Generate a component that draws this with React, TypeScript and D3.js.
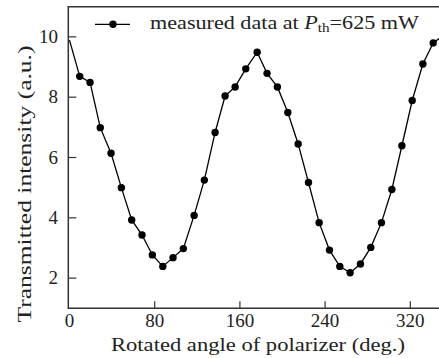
import React from "react";
import * as d3 from "d3";

const angles = [0, 9.6, 19.3, 28.9, 39.0, 48.7, 58.4, 68.1, 77.8, 87.6, 97.2, 106.9, 117.0, 126.6, 136.7, 146.1, 155.5, 165.5, 176.2, 185.5, 195.2, 205.0, 214.7, 224.4, 234.4, 244.1, 253.8, 263.5, 273.2, 282.9, 292.9, 302.7, 312.1, 321.8, 331.8, 341.5, 351.0];
const intensity = [9.89, 8.69, 8.49, 6.99, 6.14, 5.0, 3.93, 3.43, 2.77, 2.39, 2.68, 2.98, 4.08, 5.25, 6.83, 8.04, 8.34, 8.94, 9.49, 8.79, 8.34, 7.49, 6.45, 5.17, 3.84, 2.93, 2.39, 2.18, 2.47, 3.02, 3.84, 4.94, 6.39, 7.89, 9.1, 9.8, 10.05];
const markerVisible = angles.map((a) => a > 0);
const xTicks = [0, 80, 160, 240, 320];
const yTicks = [2, 4, 6, 8, 10];

const W = 439;
const H = 358;
const FONT = "'Liberation Serif', 'DejaVu Serif', serif";

export default function App() {
  const x = d3.scaleLinear().domain([0, 80]).range([69.5, 154.7]);
  const y = d3.scaleLinear().domain([1, 11]).range([308.3, 6.7]);
  const x0 = 68.3;
  const xEnd = 460;
  const line = d3
    .line<number>()
    .x((_, i) => x(angles[i]))
    .y((d) => y(d));

  return (
    <svg
      width={W}
      height={H}
      style={{ position: "absolute", left: 0, top: 0, background: "#fff" }}
      fontFamily={FONT}
    >
      <defs>
        <clipPath id="plot">
          <rect x={x0} y={y(11)} width={xEnd - x0} height={y(1) - y(11)} />
        </clipPath>
      </defs>
      {/* frame */}
      <line x1={x0} x2={xEnd} y1={y(1)} y2={y(1)} stroke="#333" strokeWidth={1.5} />
      <line x1={x0} x2={xEnd} y1={y(11)} y2={y(11)} stroke="#333" strokeWidth={1.5} />
      <line x1={x0} x2={x0} y1={y(1) + 0.75} y2={y(11) - 0.75} stroke="#333" strokeWidth={1.5} />
      {/* x ticks */}
      {xTicks.map((t) => (
        <g key={"x" + t}>
          {t > 0 && (
            <line x1={x(t)} x2={x(t)} y1={y(1)} y2={y(1) - 7} stroke="#333" strokeWidth={1.2} />
          )}
          <text x={x(t)} y={326.6} fontSize={19} textAnchor="middle" fill="#222">
            {t}
          </text>
        </g>
      ))}
      {/* y ticks */}
      {yTicks.map((t) => (
        <g key={"y" + t}>
          <line x1={x0} x2={x0 + 8} y1={y(t)} y2={y(t)} stroke="#333" strokeWidth={1.2} />
          <text x={58} y={y(t) + 6.3} fontSize={19} textAnchor="end" fill="#222">
            {t}
          </text>
        </g>
      ))}
      {/* data */}
      <g clipPath="url(#plot)">
        <path d={line(intensity) || ""} fill="none" stroke="#000" strokeWidth={1.3} />
        {intensity.map((v, i) =>
          markerVisible[i] ? (
            <circle key={i} cx={x(angles[i])} cy={y(v)} r={3.7} fill="#000" />
          ) : null
        )}
      </g>
      {/* legend */}
      <line x1={95} x2={130} y1={24.3} y2={24.3} stroke="#000" strokeWidth={1.3} />
      <circle cx={113} cy={24.3} r={3.7} fill="#000" />
      <text x={150} y={29} fontSize={19} fill="#222" textLength={269} lengthAdjust="spacingAndGlyphs">
        <tspan>measured data at </tspan>
        <tspan fontStyle="italic">P</tspan>
        <tspan fontSize={13} dy={3}>th</tspan>
        <tspan dy={-3}>=625 mW</tspan>
      </text>
      {/* axis titles */}
      <text x={258} y={351} fontSize={19} textAnchor="middle" fill="#222" textLength={294} lengthAdjust="spacingAndGlyphs">
        Rotated angle of polarizer (deg.)
      </text>
      <text
        transform={`translate(31,184) rotate(-90)`}
        fontSize={19}
        textAnchor="middle"
        fill="#222"
        textLength={277}
        lengthAdjust="spacingAndGlyphs"
      >
        Transmitted intensity (a.u.)
      </text>
    </svg>
  );
}
